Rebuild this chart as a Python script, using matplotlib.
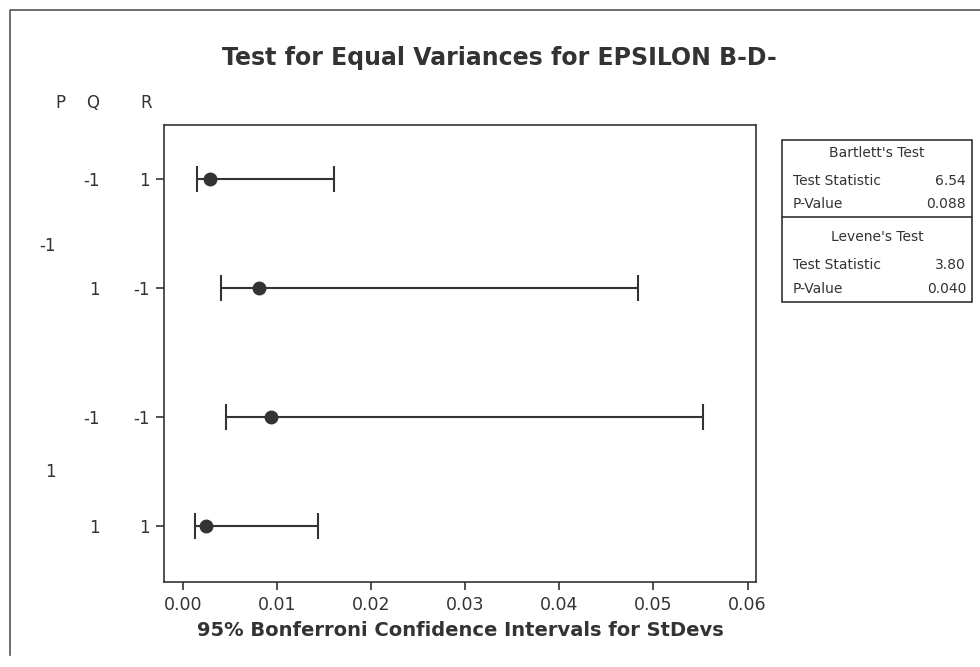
import numpy as np
import matplotlib.pyplot as plt
from matplotlib.lines import Line2D
from matplotlib.patches import Rectangle

# groups (P, Q, R) and 95% Bonferroni CIs for the standard deviations
p_vals = ["-1", "-1", "1", "1"]
q_vals = ["-1", "1", "-1", "1"]
r_vals = ["1", "-1", "-1", "1"]
lower = [0.00149, 0.0040, 0.00451, 0.00124]
stdev = [0.00284, 0.00805, 0.00933, 0.00241]
upper = [0.0160, 0.0483, 0.0553, 0.01433]

x_ticks = [0.00, 0.01, 0.02, 0.03, 0.04, 0.05, 0.06]

bartlett_stat = "6.54"
bartlett_p = "0.088"
levene_stat = "3.80"
levene_p = "0.040"

title = "Test for Equal Variances for EPSILON B-D-"
xlabel = "95% Bonferroni Confidence Intervals for StDevs"

# rows: second P group sits a bit further down
ypos = np.array([0.0, 1.0, 2.18, 3.18])

ink = "#333333"
plt.rcParams['font.family'] = ['DejaVu Sans']

fig = plt.figure(figsize=(9.8, 6.67), dpi=100)
ax = fig.add_axes([164 / 980, 1 - 582 / 667, (756 - 164) / 980, (582 - 125) / 667])

lo = np.array(stdev) - np.array(lower)
hi = np.array(upper) - np.array(stdev)
ax.errorbar(stdev, ypos, xerr=[lo, hi], fmt='o', color=ink, ecolor=ink,
            markersize=9, elinewidth=1.5, capsize=9.5, capthick=1.5)

ax.set_xlim(-0.00205, 0.0609)
ax.set_ylim(3.697, -0.495)
ax.set_xticks(x_ticks)
ax.set_xticklabels([f"{t:.2f}" for t in x_ticks], fontsize=12.5, color=ink)
ax.set_yticks(ypos)
ax.set_yticklabels(r_vals, fontsize=12, color=ink)
ax.tick_params(axis='both', direction='out', length=6, width=1.2, color=ink, pad=4)
for s in ax.spines.values():
    s.set_color(ink)
    s.set_linewidth(1.2)
ax.set_xlabel(xlabel, fontsize=14, fontweight='bold', color=ink, labelpad=5)

# Q column and P group labels (x in axes fraction)
trans = ax.get_yaxis_transform()
for y, q in zip(ypos, q_vals):
    ax.text((100 - 164) / 592, y, q, transform=trans, ha='right', va='center_baseline',
            fontsize=12, color=ink)
for grp, y in [("-1", 0.6), ("1", 2.67)]:
    ax.text((56 - 164) / 592, y, grp, transform=trans, ha='right', va='center_baseline',
            fontsize=12, color=ink)
for lab, xp in [("P", 60), ("Q", 93), ("R", 146)]:
    fig.text(xp / 980, 1 - 103 / 667, lab, ha='center', va='center', fontsize=12, color=ink)

fig.text(499 / 980, 1 - 58 / 667, title, ha='center', va='center',
         fontsize=17, fontweight='bold', color=ink)

# test results box
def fx(x):
    return x / 980


def fy(y):
    return 1 - y / 667


box_l, box_r, box_t, box_m, box_b = 782, 972, 140, 217, 302
fig.patches.append(Rectangle((fx(box_l), fy(box_b)), fx(box_r) - fx(box_l), fy(box_t) - fy(box_b),
                             transform=fig.transFigure, fill=False, edgecolor=ink, linewidth=1.2))
fig.lines.append(Line2D([fx(box_l), fx(box_r)], [fy(box_m), fy(box_m)],
                        transform=fig.transFigure, color=ink, linewidth=1.2))
rows = [
    ("Bartlett's Test", None, 153),
    ("Test Statistic", bartlett_stat, 181),
    ("P-Value", bartlett_p, 204),
    ("Levene's Test", None, 237),
    ("Test Statistic", levene_stat, 265),
    ("P-Value", levene_p, 289),
]
for name, val, y in rows:
    if val is None:
        fig.text(fx((box_l + box_r) / 2), fy(y), name, ha='center', va='center', fontsize=10, color=ink)
    else:
        fig.text(fx(793), fy(y), name, ha='left', va='center', fontsize=10, color=ink)
        fig.text(fx(966), fy(y), val, ha='right', va='center', fontsize=10, color=ink)

# outer frame (left and top edges)
fig.lines.append(Line2D([fx(10), fx(10), fx(980)], [fy(655), fy(10), fy(10)],
                        transform=fig.transFigure, color="#555555", linewidth=1.2))

fig.savefig("out.png", dpi=100, facecolor="white")
